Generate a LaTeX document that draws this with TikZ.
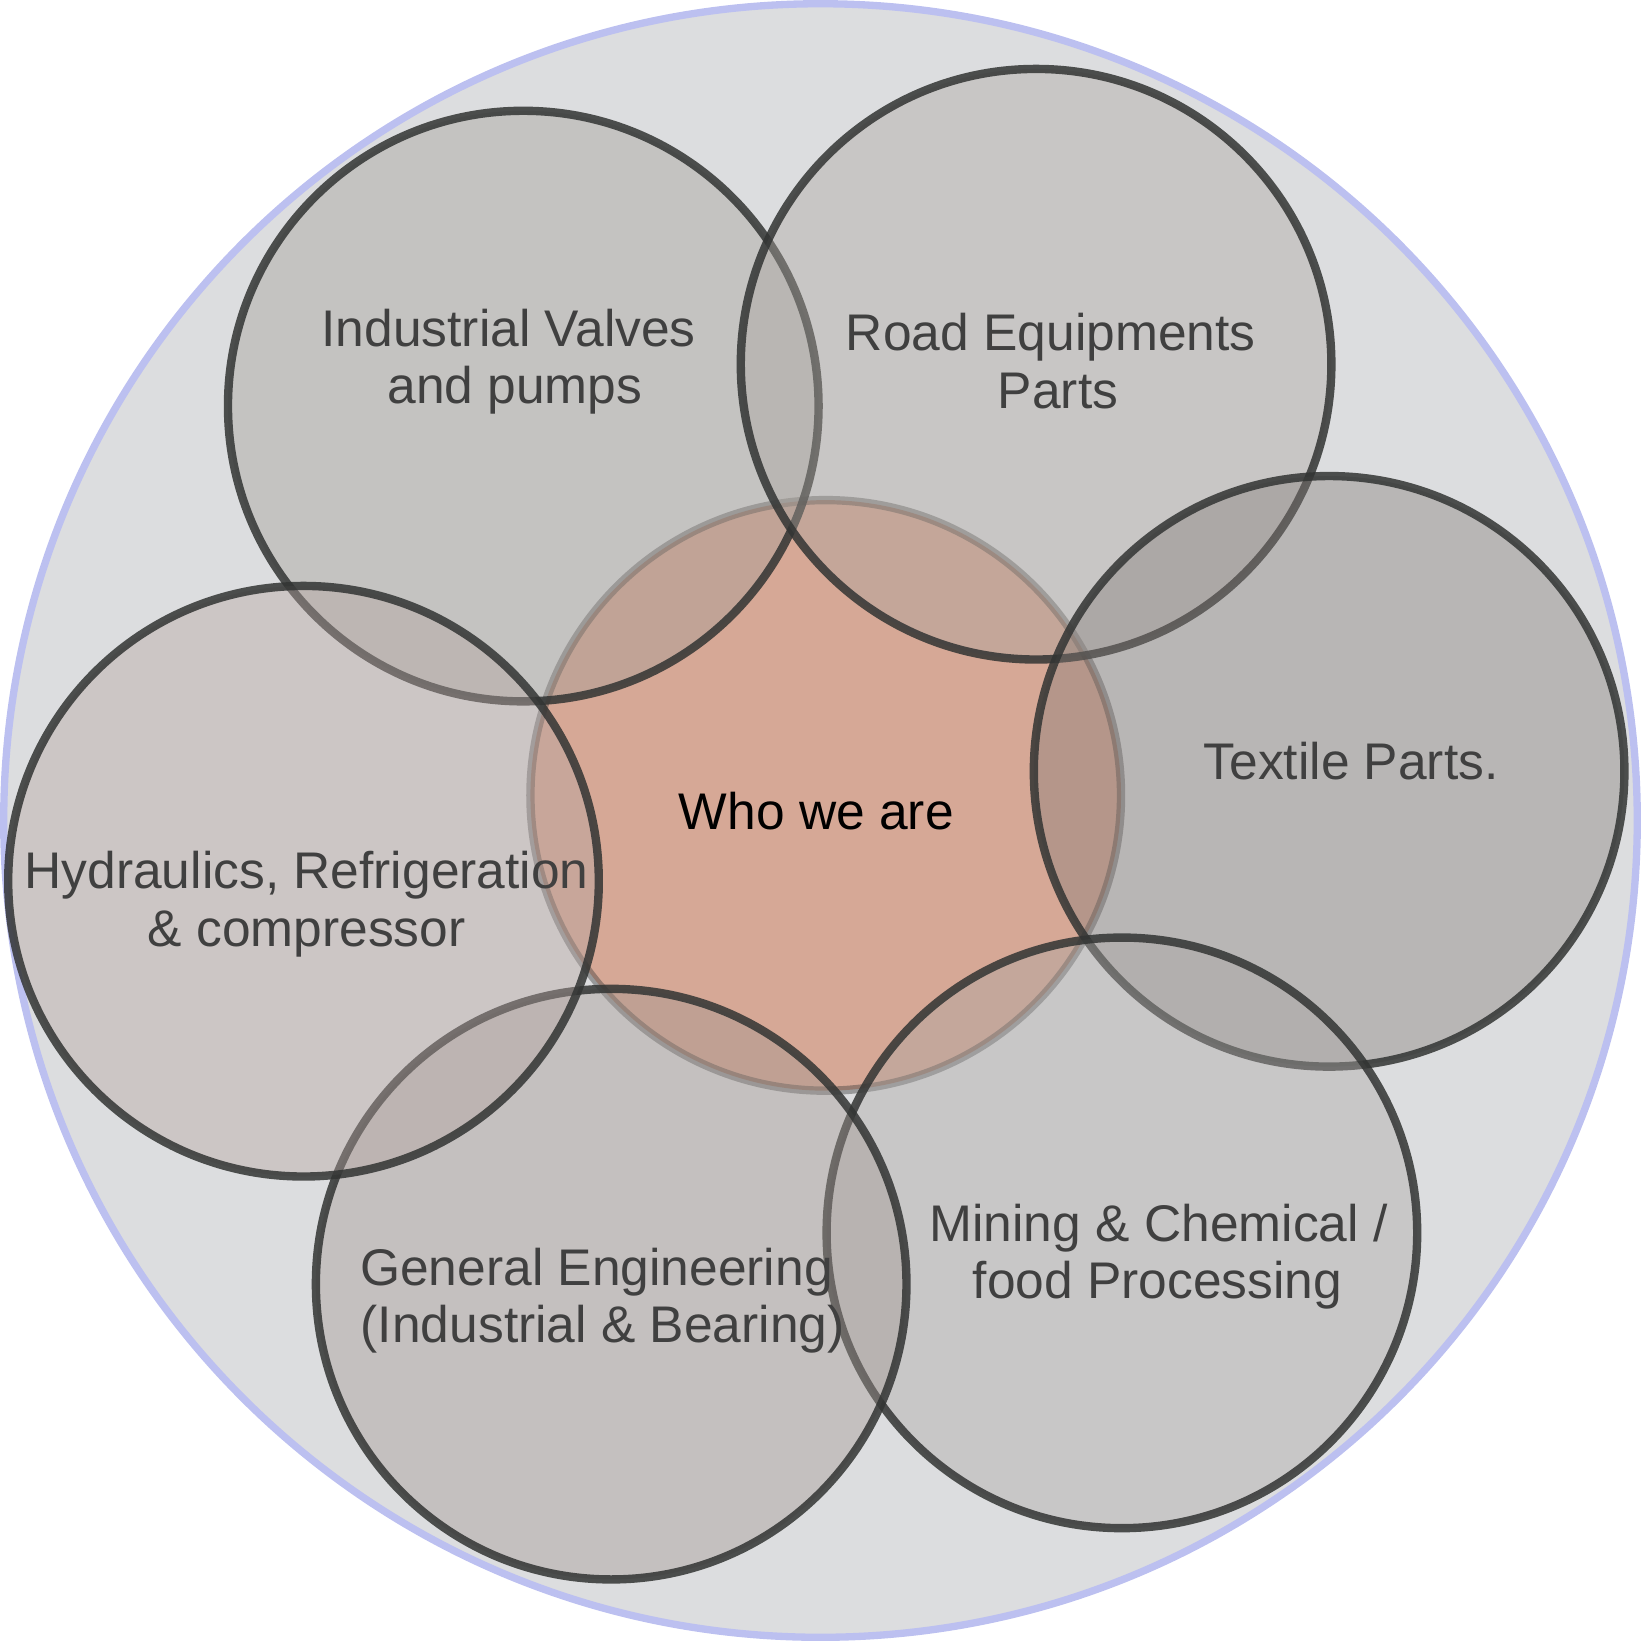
\documentclass[tikz,border=0pt]{standalone}
\usepackage{fontspec}
\setmainfont{Liberation Sans}
\definecolor{bgc}{HTML}{DCDDDF}
\definecolor{ringc}{HTML}{BCC0F0}
\definecolor{salm}{HTML}{D6A896}
\definecolor{edgec}{HTML}{323433}
\definecolor{txtc}{HTML}{404040}
\definecolor{fA}{RGB}{162,156,150}
\definecolor{fB}{RGB}{170,164,158}
\definecolor{fC}{RGB}{132,124,120}
\definecolor{fD}{RGB}{170,166,164}
\definecolor{fE}{RGB}{160,150,144}
\definecolor{fF}{RGB}{180,164,160}
\begin{document}
\begin{tikzpicture}[x=0.01cm,y=-0.01cm,
  satc/.style={circle,inner sep=0pt,minimum size=5.64cm,fill=#1,fill opacity=0.4,
    draw=edgec,draw opacity=0.85,line width=0.08cm},
  lbl/.style={anchor=base,text=txtc,font=\fontsize{14}{16}\selectfont,inner sep=0pt}]
\useasboundingbox (0,0) rectangle (1568,1568);
% outer disc
\node[circle,inner sep=0pt,minimum size=15.6cm,fill=bgc,draw=ringc,line width=0.07cm] (outer) at (784,784) {};
% centre
\node[circle,inner sep=0pt,minimum size=5.64cm,fill=salm,draw=edgec,draw opacity=0.4,line width=0.08cm] (core) at (789,760) {};
% satellites (drawing order matters)
\node[satc=fA] (valves) at (500,388) {};
\node[satc=fB] (road) at (990,348) {};
\node[satc=fC] (textile) at (1270,737) {};
\node[satc=fD] (mining) at (1072,1178) {};
\node[satc=fE] (general) at (584,1227) {};
\node[satc=fF] (hydro) at (290,842) {};
% labels
\node[lbl] (v1) at (486,331) {Industrial Valves};
\node[lbl] (v2) at (492,386) {and pumps};
\node[lbl] (r1) at (1004,335) {Road Equipments};
\node[lbl] (r2) at (1011,390) {Parts};
\node[lbl] (t1) at (1291,745) {Textile Parts.};
\node[lbl,text=black] (w1) at (780,793) {Who we are};
\node[lbl] (h1) at (293,849) {Hydraulics, Refrigeration};
\node[lbl] (h2) at (293,904) {\& compressor};
\node[lbl] (m1) at (1107,1186) {Mining \& Chemical /};
\node[lbl] (m2) at (1106,1241) {food Processing};
\node[lbl] (g1) at (570,1228) {General Engineering};
\node[lbl] (g2) at (576,1283) {(Industrial \& Bearing)};
\end{tikzpicture}
\end{document}
